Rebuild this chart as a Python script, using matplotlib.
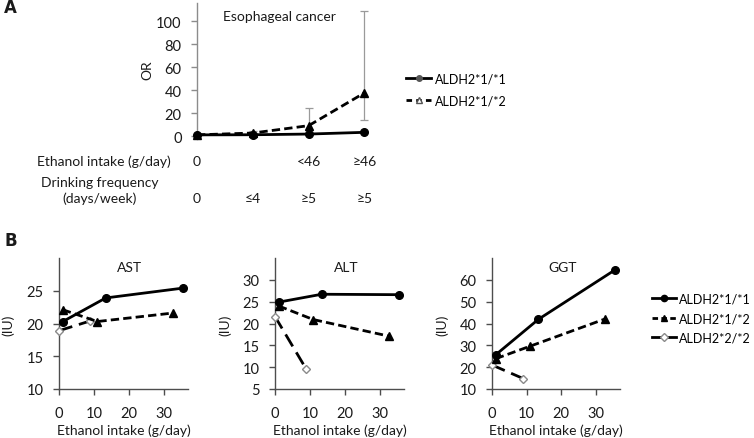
import matplotlib
matplotlib.use("Agg")
import matplotlib.pyplot as plt

plt.rcParams["font.family"] = ["Lato", "DejaVu Sans"]

W, H = 754, 439

# ---- panel A data ----
cat_pos = [0, 1, 2, 3]
intake_labels = ["0", "", "<46", "\u226546"]
freq_labels = ["0", "\u22644", "\u22655", "\u22655"]
or_11 = [1.0, 1.1, 1.7, 3.2]
or_12 = [1.0, 2.6, 9.0, 37.5]
or_12_lo = [1.0, 1.5, 5.0, 14.0]
or_12_hi = [1.0, 4.5, 24.8, 108.5]

# ---- panel B data ----
x_11 = [1.1, 13.4, 35.5]
x_12 = [1.1, 11.0, 32.7]
x_22 = [0.0, 9.0]
ast_11 = [20.3, 23.9, 25.4]
ast_12 = [22.1, 20.3, 21.6]
ast_22 = [18.9, 20.4]
alt_11 = [24.9, 26.7, 26.6]
alt_12 = [24.0, 20.9, 17.1]
alt_22 = [21.6, 9.5]
ggt_11 = [25.7, 41.9, 64.5]
ggt_12 = [23.9, 29.6, 42.1]
ggt_22 = [21.0, 14.8]

TXT = "#1a1a1a"
FS = 10
TFS = 10.5
LFS = 9.0


def rect(left, right, top, bottom):
    return [left / W, 1 - bottom / H, (right - left) / W, (bottom - top) / H]


def ftext(px, py, s, **kw):
    kw.setdefault("fontsize", FS)
    kw.setdefault("color", TXT)
    fig.text(px / W, 1 - py / H, s, **kw)


def style(ax, col):
    for s in ["top", "right"]:
        ax.spines[s].set_visible(False)
    for s in ["left", "bottom"]:
        ax.spines[s].set_color(col)
        ax.spines[s].set_linewidth(1.0)
    ax.tick_params(colors=col, labelcolor=TXT, labelsize=TFS, length=4, width=1.0)
    ax.tick_params(axis="y", pad=7)
    ax.tick_params(axis="x", pad=8)


fig = plt.figure(figsize=(W / 100, H / 100), dpi=100)

# ---------------- panel A ----------------
axa = fig.add_axes(rect(197, 370, 4, 140))
style(axa, "#8c8c8c")
axa.spines["bottom"].set_visible(False)
axa.tick_params(axis="x", bottom=False, labelbottom=False)
axa.set_xlim(0, 3.1)
axa.set_ylim(-2.6, 115.7)
axa.set_yticks([0, 20, 40, 60, 80, 100])

yerr = [[v - lo for v, lo in zip(or_12, or_12_lo)], [hi - v for v, hi in zip(or_12, or_12_hi)]]
axa.errorbar(cat_pos[1:], or_12[1:], yerr=[yerr[0][1:], yerr[1][1:]], fmt="none",
             ecolor="#9a9a9a", elinewidth=0.9, capsize=3, capthick=0.9, zorder=2)
axa.plot(cat_pos, or_12, color="black", lw=2, ls=(0, (3, 1.5)), marker="^", ms=5.5,
         mfc="black", mec="black", zorder=3, clip_on=False)
axa.plot(cat_pos, or_11, color="black", lw=2, ls="-", marker="o", ms=5.5,
         mfc="black", mec="black", zorder=4, clip_on=False)

axa.text(0.474, 0.905, "Esophageal cancer", transform=axa.transAxes, ha="center",
         va="center", fontsize=FS, color=TXT)

tr = axa.get_xaxis_transform()
for x, lab in zip(cat_pos, intake_labels):
    axa.text(x, (140 - 162) / 136, lab, transform=tr, ha="center", va="center",
             fontsize=FS, color=TXT)
for x, lab in zip(cat_pos, freq_labels):
    axa.text(x, (140 - 199) / 136, lab, transform=tr, ha="center", va="center",
             fontsize=FS, color=TXT)

ftext(171, 162, "Ethanol intake (g/day)", ha="right", va="center")
ftext(100, 191, "Drinking frequency\n(days/week)", ha="center", va="center",
      linespacing=1.35)
ftext(147, 70, "OR", ha="center", va="center", rotation=90)
ftext(4, 8, "A", ha="left", va="center", fontsize=12, fontweight="bold",
      family="DejaVu Sans")

h11 = plt.Line2D([], [], color="black", lw=2, marker="o", ms=4, mfc="#555555", mec="#555555")
h12 = plt.Line2D([], [], color="black", lw=2, ls=(0, (2, 1.5)), marker="^", ms=4,
                 mfc="white", mec="#555555")
fig.legend([h11, h12], ["ALDH2*1/*1", "ALDH2*1/*2"], loc="center left",
           bbox_to_anchor=(400 / W, 1 - 90.5 / H), frameon=False, fontsize=LFS,
           handlelength=2.0, handletextpad=0.3, labelspacing=0.8, borderpad=0)

# ---------------- panel B ----------------
panels = [
    ("AST", 59, 188, (10, 30), [10, 15, 20, 25], ast_11, ast_12, ast_22, 8),
    ("ALT", 275, 404, (5, 35), [5, 10, 15, 20, 25, 30], alt_11, alt_12, alt_22, 225),
    ("GGT", 492, 620, (10, 70), [10, 20, 30, 40, 50, 60], ggt_11, ggt_12, ggt_22, 442),
]
for title, left, right, ylim, yt, y11, y12, y22, ylab_x in panels:
    ax = fig.add_axes(rect(left, right, 259, 390))
    style(ax, "#4d4d4d")
    ax.set_xlim(0, 37)
    ax.set_ylim(*ylim)
    ax.set_yticks(yt)
    ax.set_xticks([0, 10, 20, 30])
    ax.plot(x_22, y22, color="black", lw=2, ls=(0, (5, 2.5)), marker="D", ms=4,
            mfc="white", mec="#8a8a8a", mew=1.0, zorder=3, clip_on=False)
    ax.plot(x_12, y12, color="black", lw=2, ls=(0, (3, 1.5)), marker="^", ms=6,
            mfc="black", mec="black", zorder=4, clip_on=False)
    ax.plot(x_11, y11, color="black", lw=2, ls="-", marker="o", ms=5.5,
            mfc="black", mec="black", zorder=5, clip_on=False)
    ax.text(0.55, 0.93, title, transform=ax.transAxes, ha="center", va="center",
            fontsize=FS, color=TXT)
    ax.set_xlabel("Ethanol intake (g/day)", fontsize=FS, color=TXT, labelpad=3)
    ftext(ylab_x, 325, "(IU)", ha="center", va="center", rotation=90)

ftext(4, 241, "B", ha="left", va="center", fontsize=12, fontweight="bold",
      family="DejaVu Sans")

g11 = plt.Line2D([], [], color="black", lw=2, marker="o", ms=4.5, mfc="black", mec="black")
g12 = plt.Line2D([], [], color="black", lw=2, ls=(0, (2, 1.2)), marker="^", ms=5,
                 mfc="black", mec="black")
g22 = plt.Line2D([], [], color="black", lw=2, ls="-", marker="D", ms=4,
                 mfc="white", mec="#8a8a8a")
fig.legend([g11, g12, g22], ["ALDH2*1/*1", "ALDH2*1/*2", "ALDH2*2/*2"], loc="center left",
           bbox_to_anchor=(646 / W, 1 - 319 / H), frameon=False, fontsize=LFS,
           handlelength=1.9, handletextpad=0.2, labelspacing=0.6, borderpad=0)

fig.savefig("out.png", dpi=100)
